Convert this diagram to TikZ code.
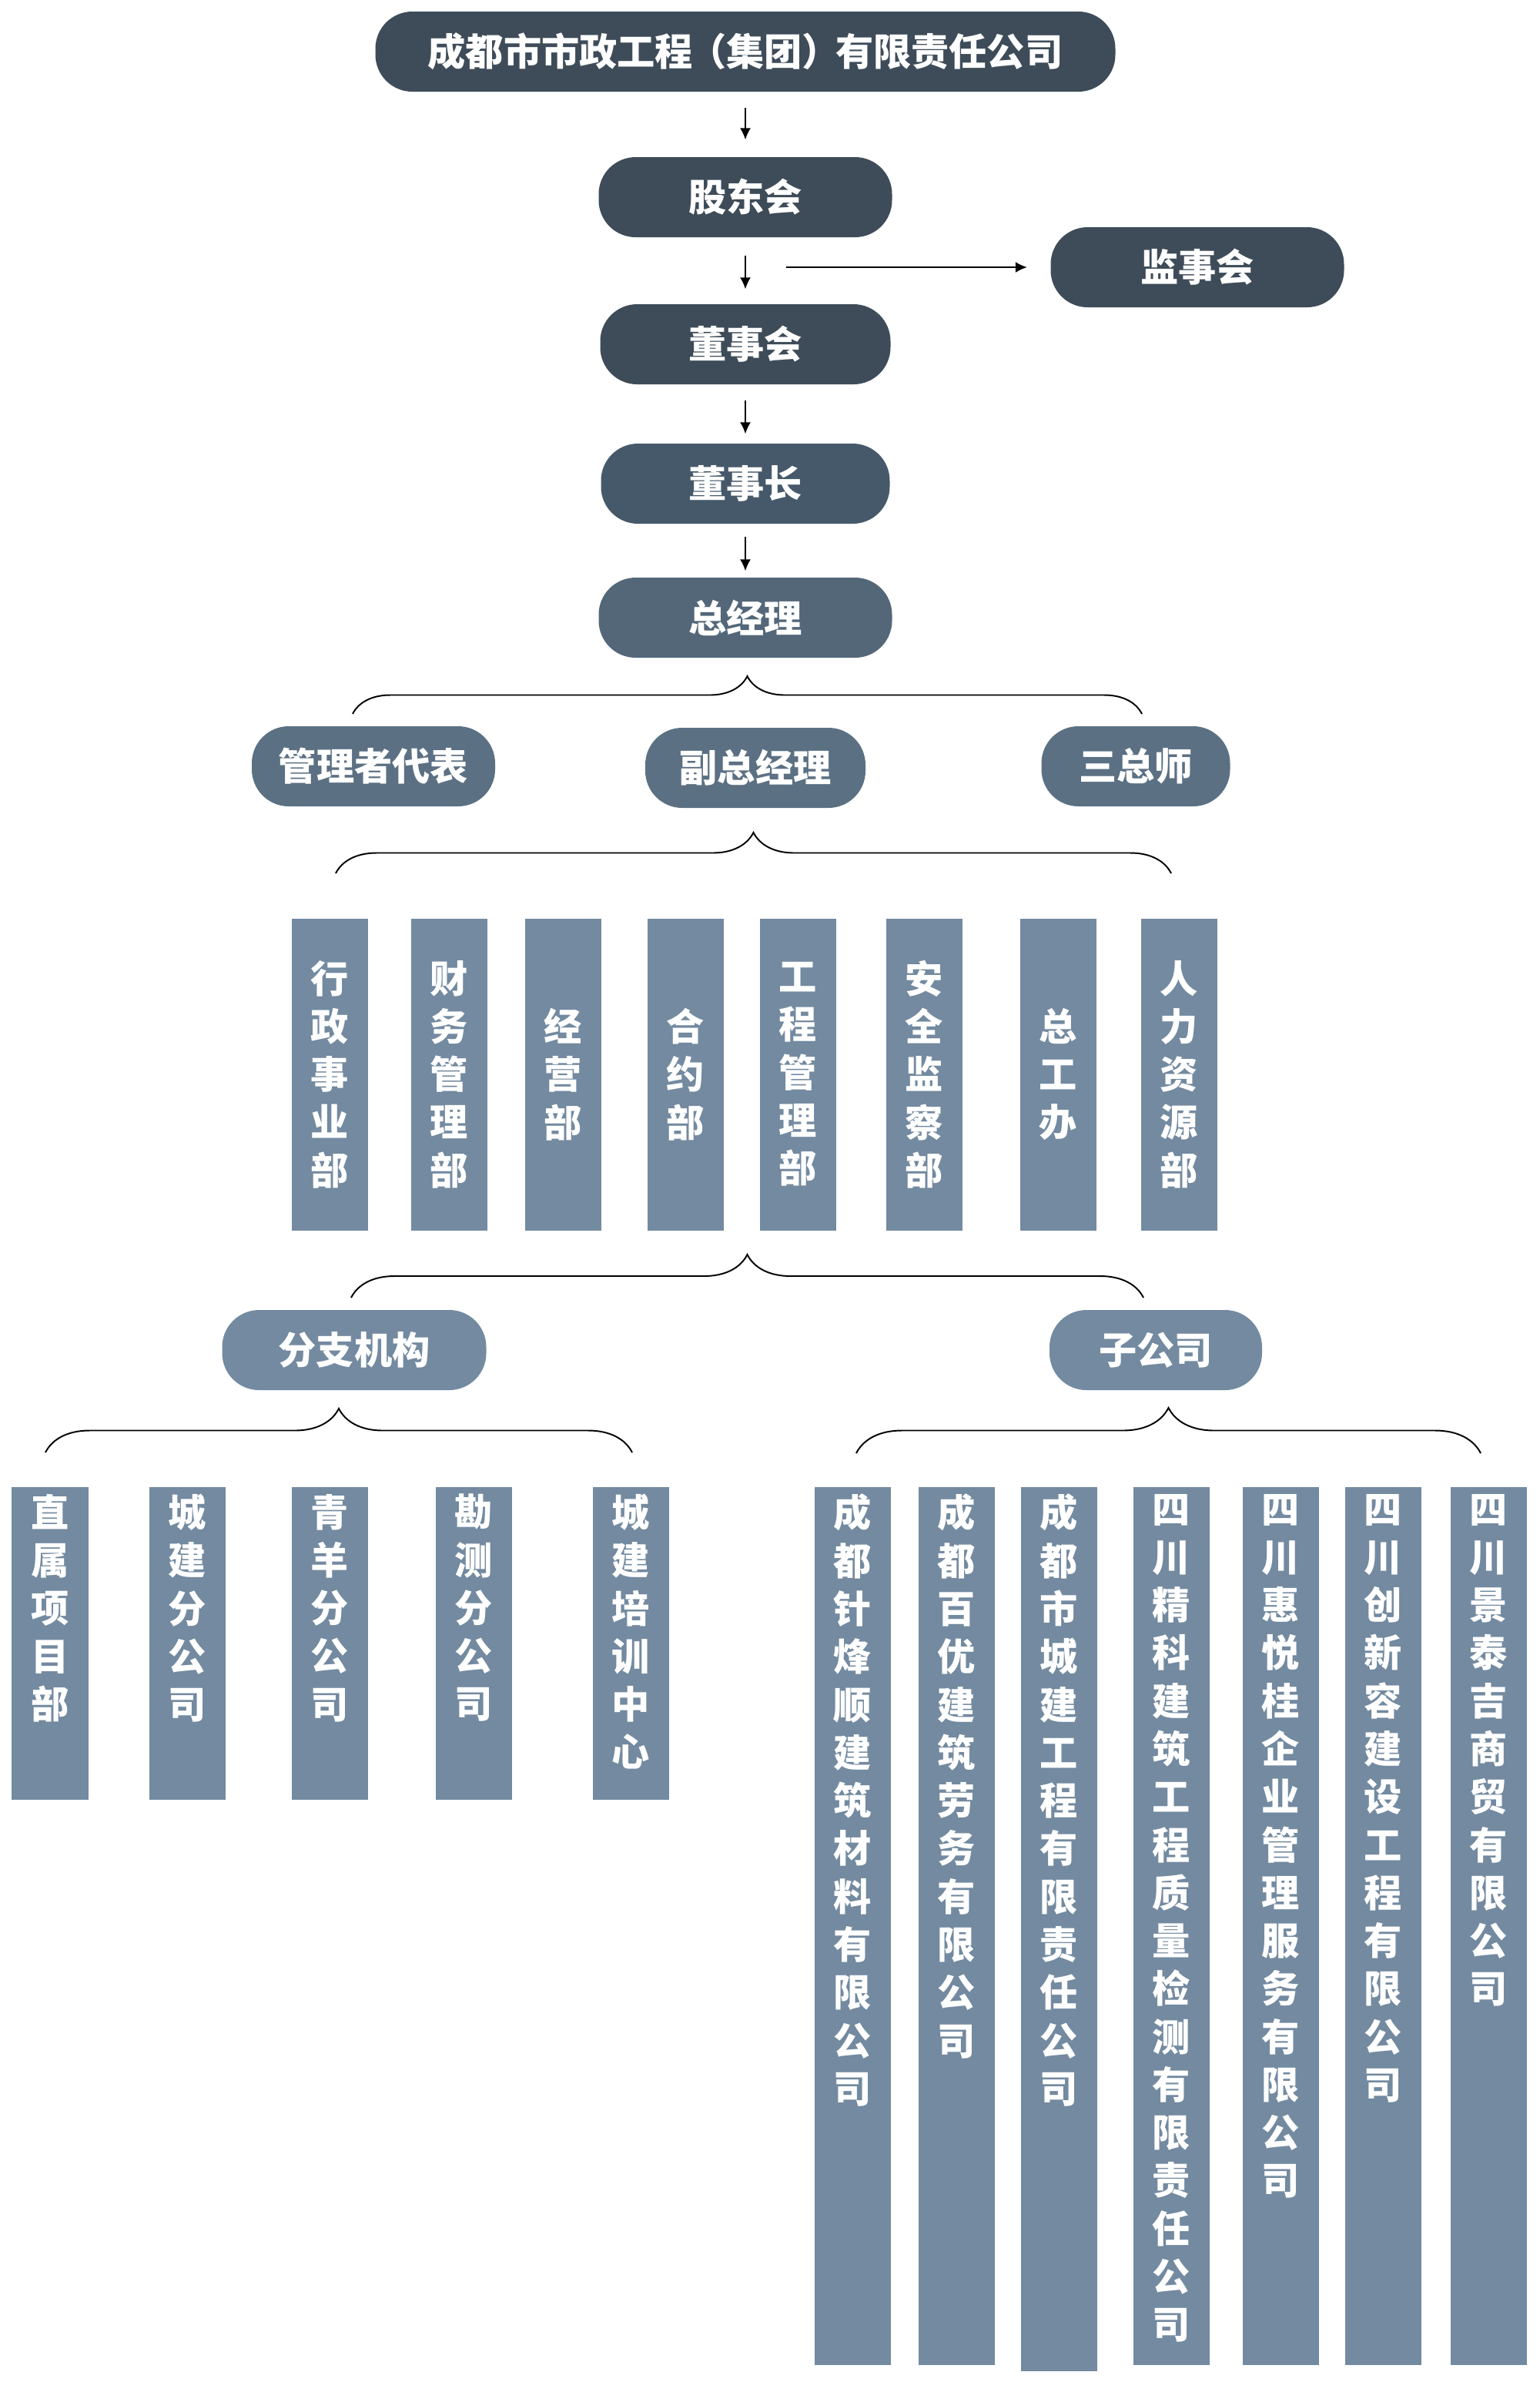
\documentclass[tikz,border=0pt]{standalone}
\usepackage{fontspec}
\setmainfont{Noto Sans CJK SC}
\usetikzlibrary{arrows.meta,decorations.pathreplacing}
\definecolor{dark}{HTML}{3E4C59}
\definecolor{midA}{HTML}{46596A}
\definecolor{midB}{HTML}{536779}
\definecolor{midC}{HTML}{5B7083}
\definecolor{barc}{HTML}{738AA0}
\begin{document}
\begin{tikzpicture}[every node/.style={font=\fontsize{14}{17.72}\selectfont\bfseries,text=white},
  pill/.style={rounded corners=0.48cm,minimum height=1.04cm,inner sep=0pt},
  bar/.style={fill=barc,minimum width=0.99cm,inner sep=0pt,align=center},
  vlab/.style={align=center,inner sep=0pt,anchor=north},
  arr/.style={-{Latex[length=1.5mm,width=1.4mm]},line width=0.5pt},
  brc/.style={decorate,decoration={brace,amplitude=#1},line width=0.55pt}]
\useasboundingbox (0,0) rectangle (20,-30.93);
% top of the chart
\node[pill,fill=dark,minimum width=9.61cm] (gs) at (9.68,-0.67) {成都市市政工程\hspace{-0.12em}（集团）\hspace{-0.12em}有限责任公司};
\node[pill,fill=dark,minimum width=3.81cm] (gdh) at (9.68,-2.56) {股东会};
\node[pill,fill=dark,minimum width=3.81cm] (jsh) at (15.55,-3.47) {监事会};
\node[pill,fill=dark,minimum width=3.77cm] (dsh) at (9.68,-4.47) {董事会};
\node[pill,fill=midA,minimum width=3.75cm] (dsz) at (9.68,-6.28) {董事长};
\node[pill,fill=midB,minimum width=3.81cm] (zjl) at (9.68,-8.02) {总经理};
\draw[arr,shorten <=0.2cm,shorten >=0.22cm] (gs.south) -- (gdh.north);
\draw[arr,shorten <=0.23cm,shorten >=0.19cm] (gdh.south) -- (dsh.north);
\draw[arr,shorten <=0.2cm,shorten >=0.12cm] (dsh.south) -- (dsz.north);
\draw[arr,shorten <=0.16cm,shorten >=0.08cm] (dsz.south) -- (zjl.north);
\coordinate (jsf) at (10.21,-3.47);
\draw[arr,shorten >=0.3cm] (jsf) -- (jsh.west);
% second level
\coordinate (b1l) at (4.58,-9.27); \coordinate (b1r) at (14.83,-9.27);
\draw[brc=0.49cm] (b1l) -- (b1r);
\node[pill,fill=midC,minimum width=3.16cm] (glz) at (4.85,-9.95) {管理者代表};
\node[pill,fill=midC,minimum width=2.86cm] (fzj) at (9.81,-9.97) {副总经理};
\node[pill,fill=midC,minimum width=2.45cm] (szs) at (14.75,-9.95) {三总师};
% departments
\coordinate (b2l) at (4.36,-11.34); \coordinate (b2r) at (15.21,-11.34);
\draw[brc=0.53cm] (b2l) -- (b2r);
\node[bar,minimum height=4.05cm] (d1) at (4.28,-13.95) {行\\政\\事\\业\\部};
\node[bar,minimum height=4.05cm] (d2) at (5.83,-13.95) {财\\务\\管\\理\\部};
\node[bar,minimum height=4.05cm] (d3) at (7.31,-13.95) {经\\营\\部};
\node[bar,minimum height=4.05cm] (d4) at (8.90,-13.95) {合\\约\\部};
\node[bar,minimum height=4.05cm] (d5) at (10.36,-13.95) {工\\程\\管\\理\\部};
\node[bar,minimum height=4.05cm] (d6) at (12.00,-13.95) {安\\全\\监\\察\\部};
\node[bar,minimum height=4.05cm] (d7) at (13.74,-13.95) {总\\工\\办};
\node[bar,minimum height=4.05cm] (d8) at (15.31,-13.95) {人\\力\\资\\源\\部};
% branches and subsidiaries
\coordinate (b3l) at (4.56,-16.85); \coordinate (b3r) at (14.85,-16.85);
\draw[brc=0.56cm] (b3l) -- (b3r);
\node[pill,fill=barc,minimum width=3.43cm] (fzjg) at (4.60,-17.53) {分支机构};
\node[pill,fill=barc,minimum width=2.76cm] (zgs) at (15.01,-17.53) {子公司};
\coordinate (b4l) at (0.59,-18.86); \coordinate (b4r) at (8.21,-18.86);
\draw[brc=0.57cm] (b4l) -- (b4r);
\coordinate (b5l) at (11.12,-18.87); \coordinate (b5r) at (19.23,-18.87);
\draw[brc=0.59cm] (b5l) -- (b5r);
\node[bar,minimum height=4.06cm] (f1) at (0.65,-21.34) {};
\node[bar,minimum height=4.06cm] (f2) at (2.43,-21.34) {};
\node[bar,minimum height=4.06cm] (f3) at (4.28,-21.34) {};
\node[bar,minimum height=4.06cm] (f4) at (6.15,-21.34) {};
\node[bar,minimum height=4.06cm] (f5) at (8.19,-21.34) {};
\node[vlab] (f1t) at ([yshift=-0.09cm]f1.north) {直\\属\\项\\目\\部};
\node[vlab] (f2t) at ([yshift=-0.09cm]f2.north) {城\\建\\分\\公\\司};
\node[vlab] (f3t) at ([yshift=-0.09cm]f3.north) {青\\羊\\分\\公\\司};
\node[vlab] (f4t) at ([yshift=-0.09cm]f4.north) {勘\\测\\分\\公\\司};
\node[vlab] (f5t) at ([yshift=-0.09cm]f5.north) {城\\建\\培\\训\\中\\心};
\node[bar,minimum height=11.40cm] (z1) at (11.07,-25.01) {};
\node[bar,minimum height=11.40cm] (z2) at (12.42,-25.01) {};
\node[bar,minimum height=11.48cm] (z3) at (13.75,-25.05) {};
\node[bar,minimum height=11.40cm] (z4) at (15.21,-25.01) {};
\node[bar,minimum height=11.40cm] (z5) at (16.63,-25.01) {};
\node[bar,minimum height=11.40cm] (z6) at (17.96,-25.01) {};
\node[bar,minimum height=11.40cm] (z7) at (19.33,-25.01) {};
\node[vlab] (z1t) at ([yshift=-0.09cm]z1.north) {成\\都\\针\\烽\\顺\\建\\筑\\材\\料\\有\\限\\公\\司};
\node[vlab] (z2t) at ([yshift=-0.09cm]z2.north) {成\\都\\百\\优\\建\\筑\\劳\\务\\有\\限\\公\\司};
\node[vlab] (z3t) at ([yshift=-0.09cm]z3.north) {成\\都\\市\\城\\建\\工\\程\\有\\限\\责\\任\\公\\司};
\node[vlab] (z4t) at ([yshift=-0.09cm]z4.north) {四\\川\\精\\科\\建\\筑\\工\\程\\质\\量\\检\\测\\有\\限\\责\\任\\公\\司};
\node[vlab] (z5t) at ([yshift=-0.09cm]z5.north) {四\\川\\惠\\悦\\桂\\企\\业\\管\\理\\服\\务\\有\\限\\公\\司};
\node[vlab] (z6t) at ([yshift=-0.09cm]z6.north) {四\\川\\创\\新\\容\\建\\设\\工\\程\\有\\限\\公\\司};
\node[vlab] (z7t) at ([yshift=-0.09cm]z7.north) {四\\川\\景\\泰\\吉\\商\\贸\\有\\限\\公\\司};
\end{tikzpicture}
\end{document}
